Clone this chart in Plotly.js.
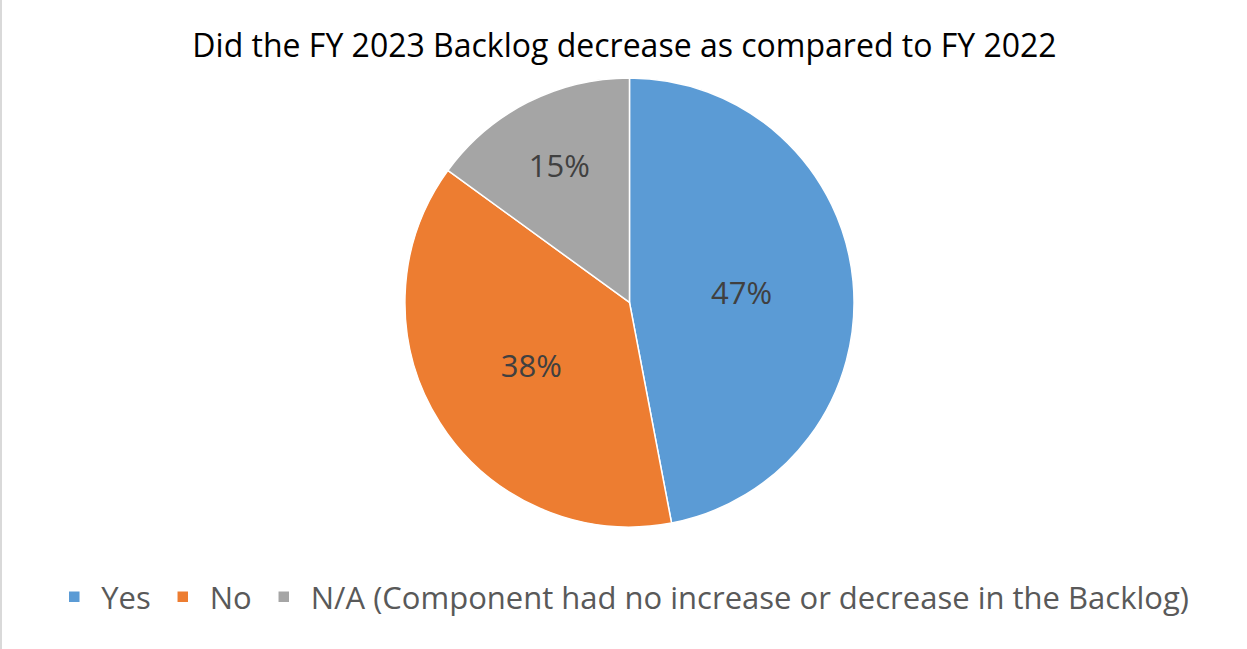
<!DOCTYPE html>
<html><head><meta charset="utf-8">
<script src="https://cdn.plot.ly/plotly-3.0.1.min.js"></script>
<style>html,body{margin:0;padding:0;background:#fff;} #chart{width:1247px;height:649px;box-sizing:border-box;border-left:2px solid #d9d9d9;}</style>
</head><body>
<div id="chart"></div>
<script>
var categories = ["Yes", "No", "N/A (Component had no increase or decrease in the Backlog)"];
var values = [47, 38, 15];
var colors = ["#5B9BD5", "#ED7D31", "#A5A5A5"];
var titleText = "Did the FY 2023 Backlog decrease as compared to FY 2022";

var trace = {
  type: "pie",
  labels: categories,
  values: values,
  sort: false,
  direction: "clockwise",
  rotation: 0,
  marker: {colors: colors, line: {color: "#ffffff", width: 1.5}},
  textinfo: "percent",
  texttemplate: "%{percent:.0%}",
  textposition: "inside",
  insidetextorientation: "horizontal",
  textfont: {family: "Open Sans, sans-serif", size: 31, color: "#404040"},
  hoverinfo: "label+percent",
  domain: {x: [0.25, 0.758], y: [0.188, 0.88]}
};

var layout = {
  width: 1245, height: 649,
  margin: {l: 0, r: 0, t: 0, b: 0},
  paper_bgcolor: "#ffffff",
  title: {text: titleText, x: 0.5, xanchor: "center", y: 0.93, yanchor: "middle",
          font: {family: "Open Sans, sans-serif", size: 32, color: "#000000"}},
  showlegend: true,
  legend: {orientation: "h", x: 0.497, xanchor: "center", y: 0.08, yanchor: "middle",
           font: {family: "Open Sans, sans-serif", size: 31, color: "#595959"},
           traceorder: "normal", itemwidth: 44}
};

Plotly.newPlot("chart", [trace], layout, {displayModeBar: false, staticPlot: true});
</script>
</body></html>
